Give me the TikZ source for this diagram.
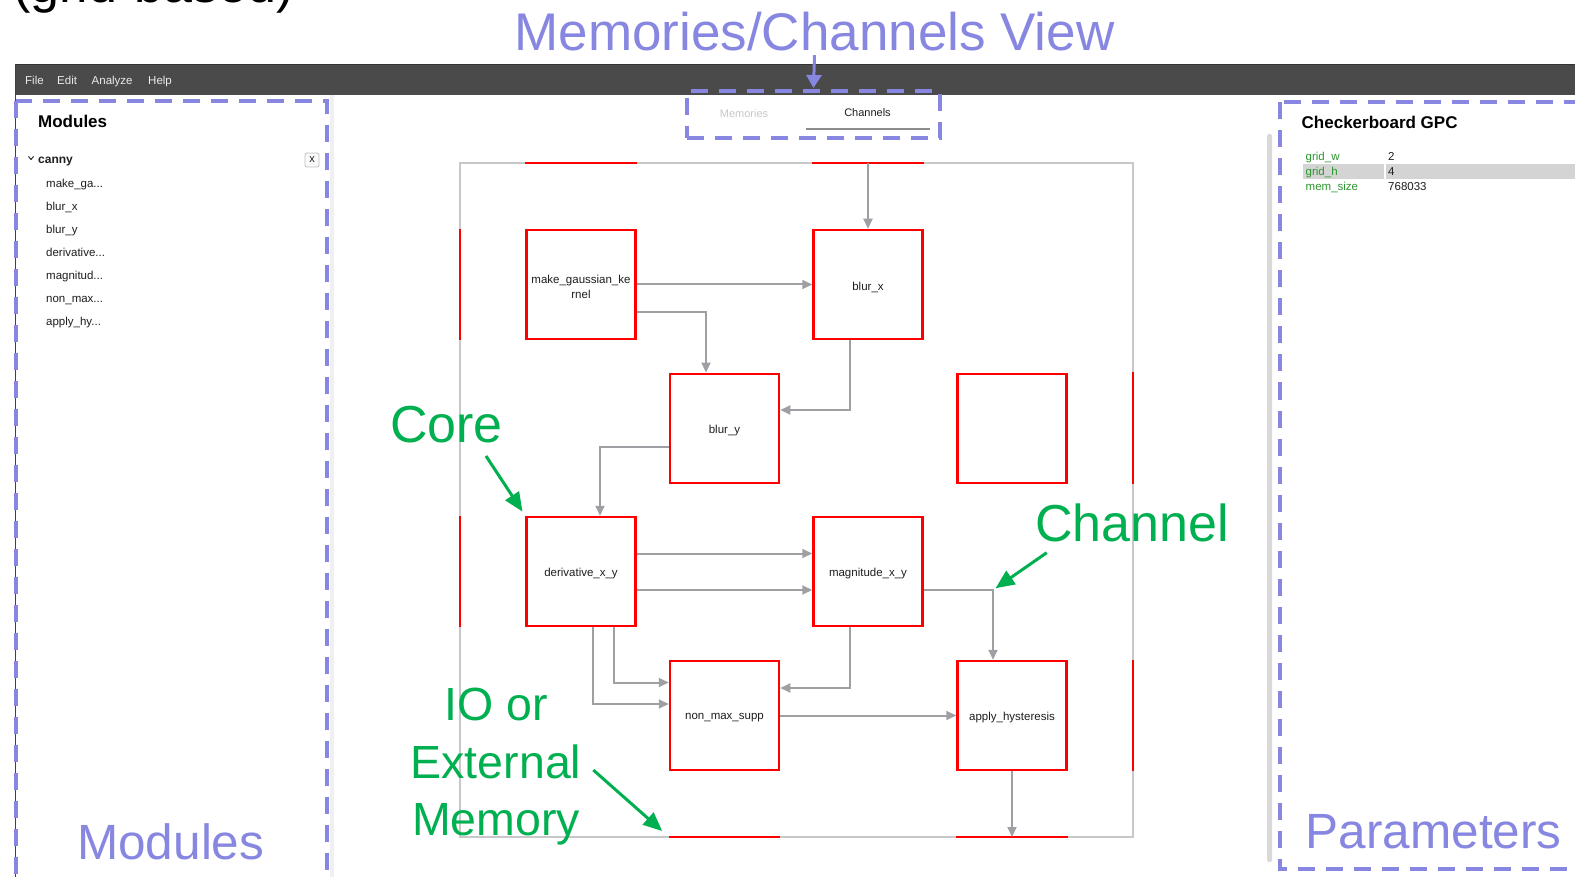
\documentclass[tikz,border=0pt]{standalone}
\usepackage{fontspec}
\setmainfont{Liberation Sans}
\usetikzlibrary{arrows.meta}

\definecolor{regionblue}{RGB}{135,135,225}
\definecolor{calloutgreen}{RGB}{0,176,80}
\definecolor{corered}{RGB}{255,0,0}
\definecolor{changray}{RGB}{160,160,164}
\definecolor{framegray}{RGB}{200,200,200}
\definecolor{menubar}{RGB}{74,74,74}
\definecolor{uitext}{RGB}{30,30,30}
\definecolor{paramgreen}{RGB}{45,150,45}
\definecolor{rowgray}{RGB}{212,212,212}
\definecolor{fadedtab}{RGB}{200,200,200}

\newcommand{\atsize}[1]{\fontsize{#1}{#1}\selectfont}
% sets a core label a little lower without changing its box
\newcommand{\corelabel}[1]{\raisebox{-2.5pt}[\height][\depth]{#1}}

\begin{document}
\begin{tikzpicture}[x=1pt,y=-1pt,
  core/.style={draw=corered, line width=2.5pt, minimum width=109pt, minimum height=109pt,
    inner sep=0pt, font=\fontsize{11.5}{15}\selectfont, text=uitext, align=center},
  chan/.style={draw=changray, line width=2pt, -{Triangle[length=10pt,width=9pt]}},
  iomem/.style={draw=corered, line width=2.5pt},
  callout/.style={text=calloutgreen, inner sep=0pt, anchor=base west, font=\atsize{52}},
  pointer/.style={draw=calloutgreen, line width=3pt, -{Triangle[length=19pt,width=16pt]}},
  region/.style={draw=regionblue, line width=4pt, dash pattern=on 17pt off 11pt},
  regionlabel/.style={text=regionblue, inner sep=0pt, font=\atsize{49.5}},
  menu/.style={text=black!8, inner sep=0pt, anchor=base west, font=\atsize{11.5}},
  ui/.style={text=uitext, inner sep=0pt, anchor=base west, font=\atsize{11.5}},
  uihead/.style={text=black, inner sep=0pt, anchor=base west, font=\bfseries\atsize{17}},
  param/.style={text=paramgreen, inner sep=0pt, anchor=base west, font=\atsize{11.5}}
]
\path[use as bounding box] (0,0) rectangle (1575,877);
\clip (0,0) rectangle (1575,877);
\fill[white] (0,0) rectangle (1575,877);

% heading line running off the top
\node[anchor=base west, inner sep=0pt, font=\atsize{52}] (title) at (13,2.5) {(grid-based)};

% application window chrome
\fill[menubar] (15,65) rectangle (1575,95);
\draw[black!80, line width=1pt] (15,65) -- (1575,65);
\draw[black!75, line width=1pt] (15.5,65) -- (15.5,877);
\fill[black!6] (330,95) rectangle (334,877);
\fill[black!15, rounded corners=2pt] (1267,134) rectangle (1272,862);

\node[menu] (mfile) at (25,84.5) {File};
\node[menu] (medit) at (57,84.5) {Edit};
\node[menu] (manalyze) at (91.5,84.5) {Analyze};
\node[menu] (mhelp) at (148,84.5) {Help};

% module tree
\node[uihead] (modhead) at (38,128) {Modules};
\draw[uitext, line width=0.9pt] (28.5,156.5) -- (31,159.5) -- (33.5,156.5);
\node[ui, font=\bfseries\atsize{12}] (canny) at (38,164) {canny};
\draw[black!25, fill=black!2, rounded corners=2pt, line width=0.8pt] (305,153) rectangle (319,167);
\node[text=uitext, inner sep=0pt, font=\atsize{11}] (closebtn) at (312,159.5) {x};
\node[ui] (t1) at (46,188) {make\_ga...};
\node[ui] (t2) at (46,211) {blur\_x};
\node[ui] (t3) at (46,234) {blur\_y};
\node[ui] (t4) at (46,257) {derivative...};
\node[ui] (t5) at (46,280) {magnitud...};
\node[ui] (t6) at (46,303) {non\_max...};
\node[ui] (t7) at (46,326) {apply\_hy...};

% view tabs
\node[text=fadedtab, inner sep=0pt, font=\atsize{11}] (tabmem) at (744,113.5) {Memories};
\node[text=uitext, inner sep=0pt, font=\atsize{11}] (tabchan) at (867.5,113) {Channels};
\draw[black!45, line width=1.5pt] (806,129) -- (929.5,129);

% parameter table
\node[uihead] (paramhead) at (1301.5,128.3) {Checkerboard GPC};
\fill[rowgray] (1302.5,164) rectangle (1384,179.5);
\fill[rowgray] (1385.5,164) rectangle (1575,179.5);
\node[param] (pw) at (1305.5,161) {grid\_w};
\node[param] (ph) at (1305.5,176) {grid\_h};
\node[param] (pm) at (1305.5,191) {mem\_size};
\node[ui] (vw) at (1388,161) {2};
\node[ui] (vh) at (1388,176) {4};
\node[ui] (vm) at (1388,191) {768033};

% checkerboard grid frame
\draw[framegray, line width=1.5pt] (460,163) rectangle (1133,837);

% IO / external memory ports on the frame
\draw[iomem] (525,163) -- (637,163);
\draw[iomem] (812,163) -- (924,163);
\draw[iomem] (460,229) -- (460,340);
\draw[iomem] (460,516) -- (460,627);
\draw[iomem] (1133,372.5) -- (1133,484);
\draw[iomem] (1133,660) -- (1133,771);
\draw[iomem] (669,837) -- (780,837);
\draw[iomem] (956,837) -- (1068,837);
\coordinate (ioT) at (868,163);
\coordinate (ioB) at (1012,837);
\coordinate (ioBleft) at (669,837);

% cores
\node[core] (mg) at (581,284.5) {\corelabel{make\_gaussian\_ke}\\\corelabel{rnel}};
\node[core] (bx) at (868,284.5) {\corelabel{blur\_x}};
\node[core] (by) at (724.5,428.3) {\corelabel{blur\_y}};
\node[core] (spare) at (1012,428.3) {};
\node[core] (dv) at (581,571.5) {\corelabel{derivative\_x\_y}};
\node[core] (mm) at (868,571.5) {\corelabel{magnitude\_x\_y}};
\node[core] (nm) at (724.5,715.5) {\corelabel{non\_max\_supp}};
\node[core] (ah) at (1012,715.5) {\corelabel{apply\_hysteresis}};

% channel bend points
\coordinate (k1) at (706,312);
\coordinate (k2) at (850,410);
\coordinate (k3) at (600,447);
\coordinate (k6a) at (700,553.5);
\coordinate (k6b) at (700,590);
\coordinate (k7) at (993,590);
\coordinate (k8a) at (614,682.5);
\coordinate (k8b) at (592.5,704);
\coordinate (k9) at (850,688);

% channels
\draw[chan] (ioT) -- (bx.north);
\draw[chan] (mg.east) -- (bx.west);
\draw[chan] (mg.east |- k1) -| (by.north -| k1);
\draw[chan] (bx.south -| k2) |- (by.east |- k2);
\draw[chan] (by.west |- k3) -| (dv.north -| k3);
\draw[chan] (dv.east |- k6a) -- (mm.west |- k6a);
\draw[chan] (dv.east |- k6b) -- (mm.west |- k6b);
\draw[chan] (mm.east |- k7) -| (ah.north -| k7);
\draw[chan] (dv.south -| k8a) |- (nm.west |- k8a);
\draw[chan] (dv.south -| k8b) |- (nm.west |- k8b);
\draw[chan] (mm.south -| k9) |- (nm.east |- k9);
\draw[chan] (nm.east) -- (ah.west);
\draw[chan] (ah.south) -- (ioB);

% callouts
\node[callout] (corelbl) at (390,442) {Core};
\coordinate (coretail) at (486,456);
\draw[pointer, shorten >=5pt] (coretail) -- (dv.north west);

\node[callout] (chanlbl) at (1035,541.7) {Channel};
\coordinate (chantail) at (1046.7,552.7);
\draw[pointer, shorten >=3pt] (chantail) -- (k7);

\node[callout, anchor=base, font=\atsize{46.5}] (io1) at (496,720) {IO or};
\node[callout, anchor=base, font=\atsize{46.5}] (io2) at (496,778) {External};
\node[callout, anchor=base, font=\atsize{46.5}] (io3) at (496,835) {Memory};
\coordinate (iotail) at (593.3,770);
\draw[pointer, shorten >=9pt] (iotail) -- (ioBleft);

% view regions
\draw[region] (16,101) rectangle (327,960);
\draw[region] (1280,102.5) rectangle (1700,869);
\node[draw=regionblue, line width=4pt, dash pattern=on 17pt off 11pt,
      minimum width=253pt, minimum height=47pt, inner sep=0pt] (tabs) at (813.5,114.5) {};

\node[regionlabel, anchor=base, font=\atsize{53}] (viewlbl) at (814.5,50.5) {Memories/Channels View};
\draw[draw=regionblue, line width=3pt, -{Triangle[length=13pt,width=15pt]}]
  ([yshift=-4pt]viewlbl.south) -- ([yshift=1pt]tabs.north);
\node[regionlabel, anchor=base west] (modlbl) at (77,859) {Modules};
\node[regionlabel, anchor=base west] (parlbl) at (1305.5,848.3) {Parameters};
\end{tikzpicture}
\end{document}
